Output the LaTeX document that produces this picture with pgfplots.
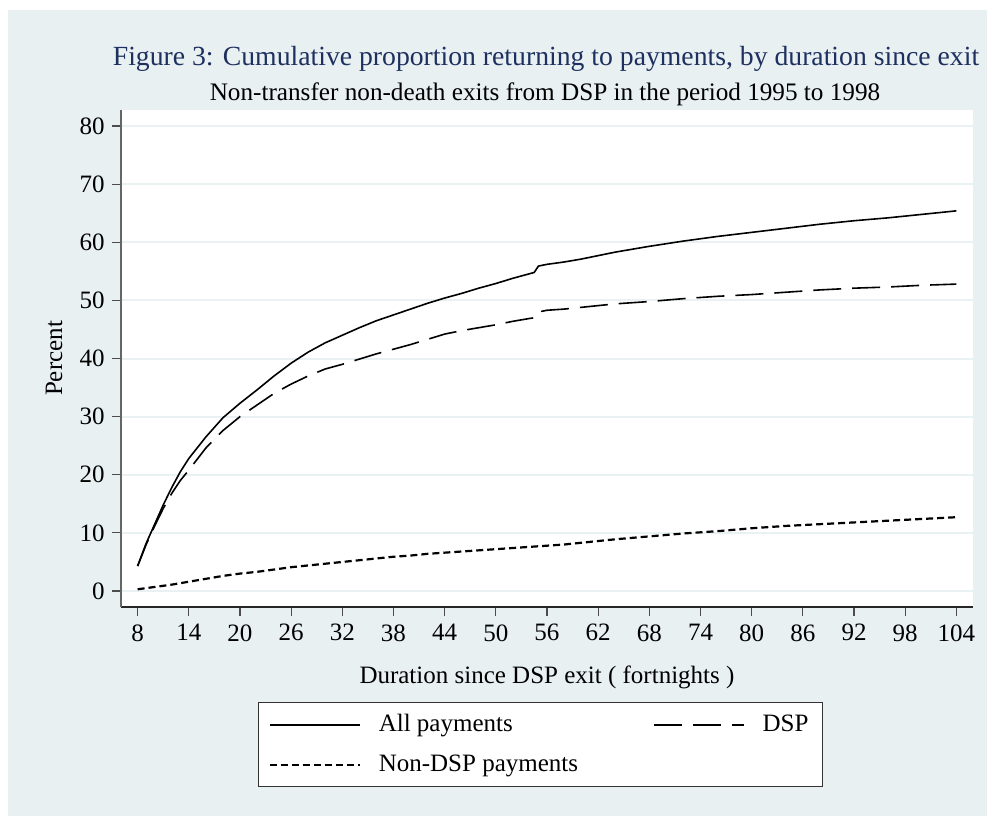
\documentclass[border=0pt]{standalone}
\usepackage{fontspec}
\setmainfont{Liberation Serif}
\usepackage{pgfplots}
\pgfplotsset{compat=1.18}
\definecolor{bgblue}{RGB}{232,240,242}
\definecolor{gridblue}{RGB}{233,241,243}
\definecolor{titlenavy}{RGB}{30,48,95}

% Cumulative proportion returning to payments (percent), by fortnights since exit
\pgfplotstableread{
x     all    dsp    nondsp
8     4.3    4.3    0.3
9     8.2    8.0    0.5
10    11.5   11.2   0.7
11    14.8   14.2   0.9
12    17.8   16.8   1.1
13    20.5   19.0   1.35
14    22.8   20.8   1.6
16    26.5   24.6   2.1
18    29.8   27.6   2.6
20    32.3   30.0   3.0
22    34.6   32.0   3.3
24    37.0   34.0   3.7
26    39.2   35.6   4.1
28    41.1   37.0   4.4
30    42.7   38.2   4.7
32    44.0   39.0   5.0
34    45.3   39.9   5.3
36    46.5   40.8   5.6
38    47.5   41.6   5.9
40    48.5   42.4   6.1
42    49.5   43.3   6.4
44    50.4   44.2   6.6
46    51.2   44.8   6.8
48    52.1   45.3   7.0
50    52.9   45.8   7.2
52    53.8   46.4   7.4
54    54.6   46.9   7.6
54.5  54.8   47.0   7.65
55    55.9   48.0   7.7
56    56.2   48.3   7.8
58    56.6   48.5   8.0
60    57.1   48.8   8.3
62    57.7   49.1   8.6
64    58.3   49.4   8.9
68    59.3   49.8   9.4
72    60.2   50.3   9.9
76    61.0   50.7   10.3
80    61.7   51.0   10.8
84    62.4   51.4   11.2
88    63.1   51.8   11.5
92    63.7   52.1   11.8
96    64.2   52.3   12.1
100   64.8   52.6   12.4
104   65.4   52.8   12.7
}\returndata

\begin{document}
\begin{tikzpicture}
\useasboundingbox (0,0) rectangle (493.5pt,-408pt);
\fill[white] (0,0) rectangle (493.5pt,-408pt);
\fill[bgblue] (4pt,-5pt) rectangle (493.5pt,-408pt);

\begin{axis}[
  at={(60.5pt,-303.5pt)}, anchor=south west,
  scale only axis, width=426pt, height=248.5pt,
  xmin=6.05, xmax=105.95, ymin=-2.75, ymax=82.75,
  axis background/.style={fill=white},
  axis x line*=bottom, axis y line*=left,
  x axis line style={-, black!85, line width=0.8pt},
  y axis line style={-, black!60, line width=1pt},
  xtick={8,14,...,104}, ytick={0,10,...,80},
  tick align=outside, major tick length=4.5pt,
  tick style={black!70, line width=0.6pt},
  ymajorgrids, grid style={gridblue, line width=1pt},
  /pgf/number format/assume math mode=true,
  tick label style={font=\fontsize{12.5}{14}\selectfont},
  xticklabel style={inner sep=0pt, yshift=-4pt},
  yticklabel style={inner sep=0pt, xshift=-3.5pt},
  xlabel={Duration since DSP exit ( fortnights )},
  xlabel style={at={(0.5,-0.1529)}, anchor=base, font=\fontsize{12.5}{14}\selectfont},
  ylabel={Percent},
  ylabel style={at={(-0.0786,0.5)}, anchor=center, rotate=0, font=\fontsize{12.5}{14}\selectfont},
  legend columns=2,
  legend cell align=left,
  legend image code/.code={\draw[#1] (0pt,0pt) -- (45pt,0pt);},
  legend style={at={(0.1608,-0.1911)}, anchor=north west,
    draw=black!80, line width=0.6pt, fill=white,
    font=\fontsize{12.5}{14}\selectfont,
    inner xsep=5pt, inner ysep=4pt, row sep=6pt,
    /tikz/every odd column/.append style={column sep=7pt},
    /tikz/every even column/.append style={column sep=35.5pt}},
]
\addplot[black, line width=0.8pt] table[x=x, y=all] {\returndata};
\addlegendentry{All payments}
\addplot[black, line width=0.8pt, dash pattern=on 14pt off 5.5pt] table[x=x, y=dsp] {\returndata};
\addlegendentry{DSP}
\addplot[black, line width=1.1pt, dash pattern=on 3.5pt off 2pt] table[x=x, y=nondsp] {\returndata};
\addlegendentry{Non-DSP payments}
\end{axis}

\node[anchor=base, text=titlenavy, font=\fontsize{13.85}{16}\selectfont] at (273pt,-32.5pt)
  {Figure 3: Cumulative proportion returning to payments, by duration since exit};
\node[anchor=base, font=\fontsize{12.6}{15}\selectfont] at (272.5pt,-50pt)
  {Non-transfer non-death exits from DSP in the period 1995 to 1998};
\end{tikzpicture}
\end{document}
